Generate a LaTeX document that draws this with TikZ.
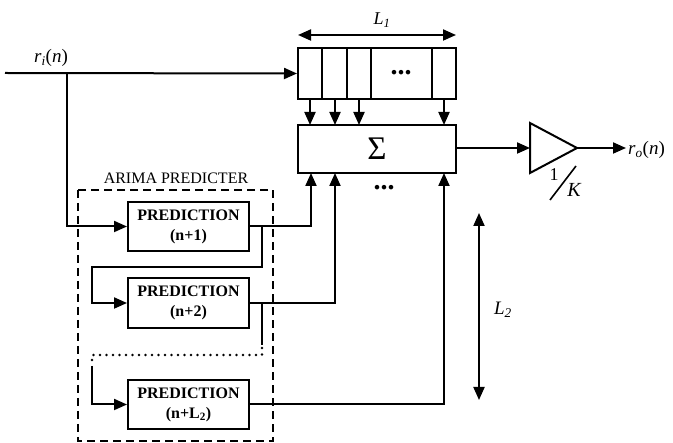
\documentclass[tikz,border=0pt]{standalone}
\usepackage{fontspec}
\setmainfont{Liberation Serif}
\usetikzlibrary{arrows.meta}
\tikzset{
  wire/.style={line width=2pt, line cap=butt},
  arr/.style={wire, -{Triangle[length=13pt,width=11pt]}},
  dbl/.style={wire, {Triangle[length=13pt,width=11pt]}-{Triangle[length=13pt,width=11pt]}},
  blk/.style={draw, line width=2pt, rectangle, inner sep=0pt},
  predbox/.style={blk, minimum width=121pt, minimum height=49pt, font=\fontsize{16}{20}\selectfont\bfseries, align=center},
  lbl/.style={inner sep=0pt, font=\fontsize{16}{18}\selectfont},
  bigdots/.style={inner sep=0pt, font=\fontsize{28}{28}\selectfont\bfseries},
}
\begin{document}
\begin{tikzpicture}[x=1pt,y=-1pt]
\useasboundingbox (0,0) rectangle (673,443);
% register
\node[blk, minimum width=158pt, minimum height=51pt] (reg) at (377,73.5) {};
\foreach \xx in {322,347,371,432} \draw[wire] (\xx,48) -- (\xx,99);
\node[bigdots] (rdots) at (401,73) {...};
% sigma
\node[blk, minimum width=158pt, minimum height=48pt, font=\fontsize{33}{33}\selectfont] (sig) at (377,149) {Σ};
\node[bigdots] (sdots) at (384,188) {...};
% register taps
\foreach \xx in {310,335,359,444} {
  \draw[arr] (\xx,99) -- (\xx,125);
}
% L1
\coordinate (l1a) at (298,35);
\coordinate (l1b) at (456,35);
\draw[dbl] (l1a) -- (l1b);
\node[lbl, font=\fontsize{18}{18}\selectfont\itshape] (L1) at (382,20) {L\textsubscript{1}};
% input
\coordinate (in) at (5,73);
\coordinate (br) at (67,73);
\draw[arr] (in) -- (reg.west);
\node[lbl, font=\fontsize{19}{19}\selectfont] (ri) at (51,58) {\textit{r\textsubscript{i}}(\textit{n})};
% predicter
\draw[line width=2.2pt, dash pattern=on 8pt off 5pt] (78,190) rectangle (273,441);
\node[lbl] (arima) at (176,178) {ARIMA PREDICTER};
\node[predbox] (p1) at (188.5,226.5) {PREDICTION\\(n+1)};
\node[predbox, minimum height=50pt] (p2) at (188.5,303) {PREDICTION\\(n+2)};
\node[predbox] (p3) at (188.5,404.5) {PREDICTION\\(n+L\textsubscript{2})};
% input to p1
\draw[arr] (br) -- (67,226.5) -- (p1.west);
% p1 out
\draw[arr] (p1.east) -- (311,226.5) -- (311,173);
\draw[arr] (262,226.5) -- (262,267) -- (92,267) -- (92,303) -- (p2.west);
% p2 out
\draw[arr] (p2.east) -- (335,303) -- (335,173);
\draw[wire] (262,303) -- (262,345);
\draw[line width=2.8pt, line cap=round, dash pattern=on 0pt off 6.5pt] (262,348) -- (262,355) -- (92,355) -- (92,366);
\draw[arr] (92,366) -- (92,404.5) -- (p3.west);
% p3 out
\draw[arr] (p3.east) -- (444,404.5) -- (444,173);
% output
\coordinate (tl) at (530,123);
\coordinate (tb) at (530,173);
\coordinate (tt) at (577,148);
\draw[wire, line join=miter] (tl) -- (tt) -- (tb) -- cycle;
\draw[arr] (sig.east |- 0,148) -- (530,148);
\coordinate (out) at (626,148);
\draw[arr] (tt) -- (out);
\node[lbl, font=\fontsize{19}{19}\selectfont, anchor=west] (ro) at (628,150) {\textit{r\textsubscript{o}}(\textit{n})};
% gain 1/K
\node[lbl, font=\fontsize{18}{18}\selectfont] (g1) at (554,175) {1};
\node[lbl, font=\fontsize{20}{20}\selectfont\itshape] (gK) at (574,190) {K};
\coordinate (s1) at (550,200);
\coordinate (s2) at (576,166);
\draw[line width=1.6pt] (s1) -- (s2);
% L2
\coordinate (l2a) at (479,213);
\coordinate (l2b) at (479,400);
\draw[dbl] (l2a) -- (l2b);
\node[lbl, font=\fontsize{19}{19}\selectfont\itshape] (L2) at (503,310) {L\textsubscript{2}};
\end{tikzpicture}
\end{document}
